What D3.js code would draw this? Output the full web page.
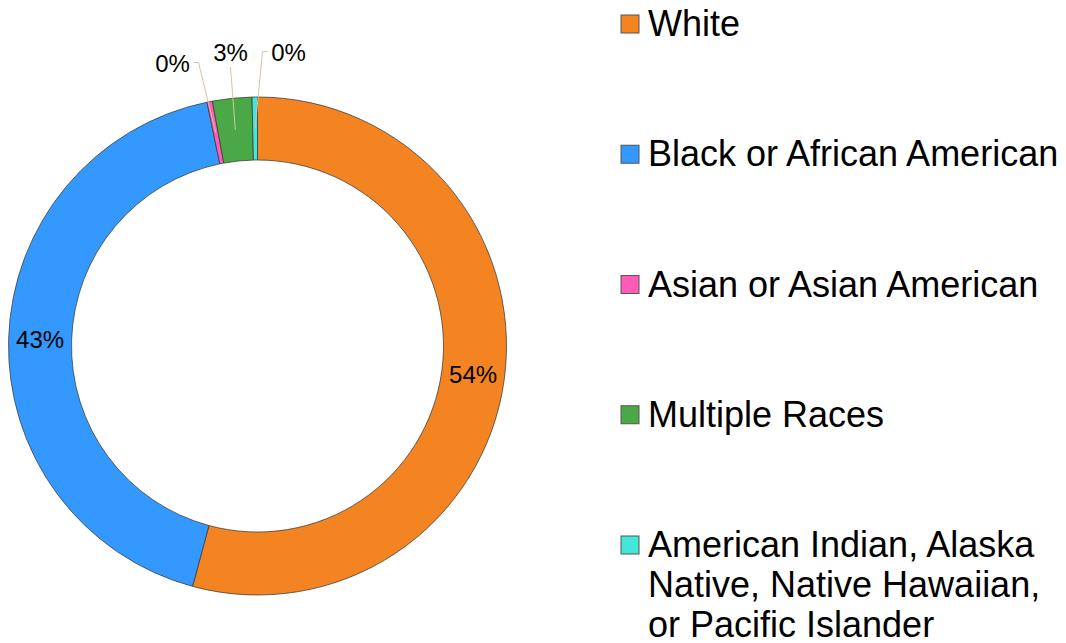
<!DOCTYPE html>
<html>
<head>
<meta charset="utf-8">
<script src="https://cdn.jsdelivr.net/npm/d3@7"></script>
<style>
  body { margin: 0; background: #fff; }
  text { font-family: "Liberation Sans", Arial, sans-serif; fill: #000; }
</style>
</head>
<body>
<div id="chart"></div>
<script>
(function() {

// categories and shares (percent)
var categories = ['White', 'Black or African American', 'Asian or Asian American',
                  'Multiple Races', 'American Indian, Alaska Native, Native Hawaiian, or Pacific Islander'];
var shares = [54.2, 42.55, 0.35, 2.55, 0.35];
var colors = ['#F48421', '#3399FF', '#FF5CB8', '#4BA846', '#44E6D8'];

var width = 1066, height = 643;
var cx = 257.5, cy = 346;
var outerR = 249, innerR = 186;

var svg = d3.select('#chart')
            .append('svg')
            .attr('width', width)
            .attr('height', height);

var g = svg.append('g')
           .attr('transform', 'translate(' + cx + ',' + cy + ')');

var total = d3.sum(shares);
var fmt = d3.format('.0%');

var pie = d3.pie().sort(null).value(function(d) { return d; });
var arc = d3.arc().innerRadius(innerR).outerRadius(outerR);
var arcs = pie(shares);

// Draw slices
g.selectAll('path.slice')
  .data(arcs)
  .enter().append('path')
  .attr('class', 'slice')
  .attr('d', arc)
  .attr('fill', function(d, i) { return colors[i]; })
  .attr('stroke', '#3a3a3a')
  .attr('stroke-width', 0.75);

// Labels inside the big slices
var big = arcs.filter(function(d) { return d.value / total >= 0.1; });
g.selectAll('text.inlabel')
  .data(big)
  .enter().append('text')
  .attr('class', 'inlabel')
  .attr('x', function(d) { return arc.centroid(d)[0]; })
  .attr('y', function(d) { return arc.centroid(d)[1]; })
  .attr('dy', '0.35em')
  .style('text-anchor', 'middle')
  .style('font-size', '24px')
  .text(function(d) { return fmt(d.value / total); });

// Small slices get labels outside with leader lines
var small = arcs.filter(function(d) { return d.value / total < 0.1; });
var labelR = 295, spread = 58;
var mids = small.map(function(d) { return labelR * Math.sin((d.startAngle + d.endAngle) / 2); });
var meanX = d3.mean(mids);
small.forEach(function(d, i) {
  d.lx = meanX + (i - (small.length - 1) / 2) * spread + 3;
  d.ly = -Math.sqrt(labelR * labelR - d.lx * d.lx);
  d.c = arc.centroid(d);
});

g.selectAll('path.leader')
  .data(small)
  .enter().append('path')
  .attr('class', 'leader')
  .attr('fill', 'none')
  .attr('stroke', '#D8C2A6')
  .attr('stroke-width', 1)
  .attr('d', function(d) {
    var dx = d.c[0] - d.lx;
    if (Math.abs(dx) < 20) {
      return 'M' + d.lx + ',' + (d.ly + 15) + 'L' + d.c[0] + ',' + d.c[1];
    }
    var s = dx > 0 ? 1 : -1;
    var x0 = d.lx + s * 21, y0 = d.ly - 1;
    return 'M' + x0 + ',' + y0 + 'L' + (x0 + s * 5) + ',' + y0 + 'L' + d.c[0] + ',' + d.c[1];
  });

g.selectAll('text.outlabel')
  .data(small)
  .enter().append('text')
  .attr('class', 'outlabel')
  .attr('x', function(d) { return d.lx; })
  .attr('y', function(d) { return d.ly; })
  .attr('dy', '0.35em')
  .style('text-anchor', 'middle')
  .style('font-size', '24px')
  .text(function(d) { return fmt(d.value / total); });

// Legend
var legY = d3.scalePoint().domain(categories).range([24, 545]);
var legend = svg.append('g').attr('class', 'legend');

var items = legend.selectAll('g.item')
  .data(categories)
  .enter().append('g')
  .attr('class', 'item')
  .attr('transform', function(d) { return 'translate(621,' + legY(d) + ')'; });

items.append('rect')
  .attr('x', 0)
  .attr('y', -9)
  .attr('width', 18)
  .attr('height', 18)
  .attr('fill', function(d, i) { return colors[i]; })
  .attr('stroke', '#555')
  .attr('stroke-width', 1);

items.each(function(d) {
  var t = d3.select(this).append('text')
    .attr('x', 27)
    .attr('y', 12)
    .style('font-size', '36px');
  // wrap long names
  var words = d.split(' '), line = [];
  var tspan = t.append('tspan').attr('x', 27).attr('dy', 0);
  words.forEach(function(w) {
    line.push(w);
    tspan.text(line.join(' '));
    if (tspan.node().getComputedTextLength() > 425 && line.length > 1) {
      line.pop();
      tspan.text(line.join(' '));
      line = [w];
      tspan = t.append('tspan').attr('x', 27).attr('dy', 40).text(w);
    }
  });
});

})();
</script>
</body>
</html>
